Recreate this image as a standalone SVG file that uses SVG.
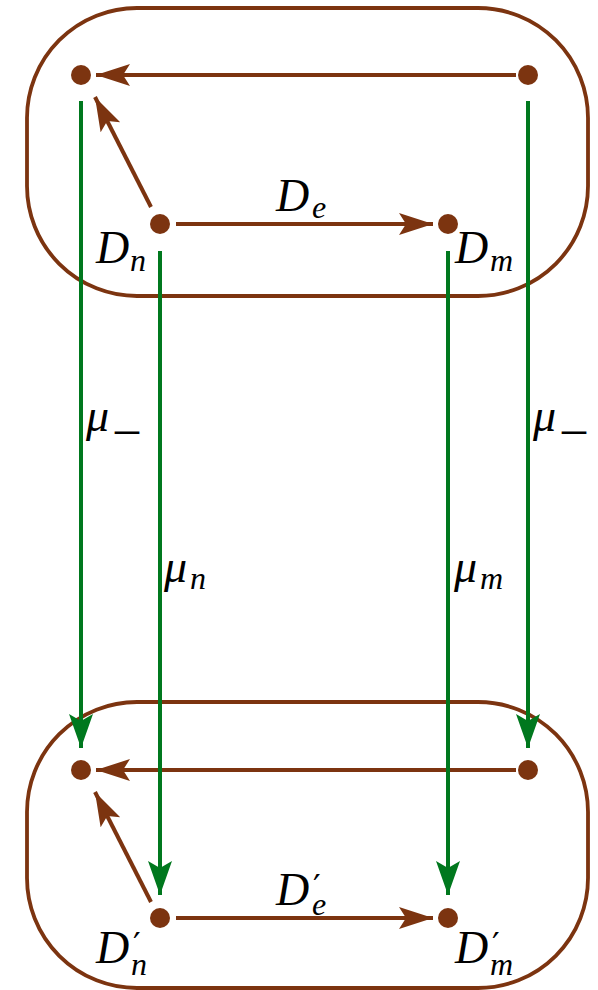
<svg xmlns="http://www.w3.org/2000/svg" width="598" height="990" viewBox="0 0 598 990">
<style>
.box{fill:none;stroke:#7c3410;stroke-width:3.8}
.br{fill:none;stroke:#7c3410;stroke-width:4}
.gr{fill:none;stroke:#00781e;stroke-width:4}
.dot{fill:#7c3410}
.lbl{font-family:"Liberation Serif",serif;font-style:italic;font-size:46px;fill:#000}
.sub{font-size:32px}
.pr{font-family:"DejaVu Sans",sans-serif;font-style:normal;font-size:34px}
</style>
<defs>
<marker id="ab" markerUnits="userSpaceOnUse" viewBox="0 -12 36 24" refX="34" refY="0" markerWidth="36" markerHeight="24" orient="auto">
<path d="M0,-11 L34,0 L0,11 L7,0 Z" fill="#7c3410"/>
</marker>
<marker id="ag" markerUnits="userSpaceOnUse" viewBox="0 -13 36 26" refX="34" refY="0" markerWidth="36" markerHeight="26" orient="auto">
<path d="M0,-12 L34,0 L0,12 L7,0 Z" fill="#00781e"/>
</marker>
</defs>
<g id="box-top"><rect class="box" x="27" y="8" width="561" height="288" rx="110" ry="110"/></g>
<g id="box-bottom"><rect class="box" x="27" y="702" width="561" height="286" rx="110" ry="110"/></g>
<g id="connectors">
<path class="br" d="M516,75 L96,75" marker-end="url(#ab)"/>
<path class="br" d="M151,207 L95,97" marker-end="url(#ab)"/>
<path class="br" d="M176,224 L433,224" marker-end="url(#ab)"/>
<path class="br" d="M516,770 L96,770" marker-end="url(#ab)"/>
<path class="br" d="M151,902 L95,792" marker-end="url(#ab)"/>
<path class="br" d="M176,918 L433,918" marker-end="url(#ab)"/>
<path class="gr" d="M81,101 L81,748" marker-end="url(#ag)"/>
<path class="gr" d="M160,251 L160,895" marker-end="url(#ag)"/>
<path class="gr" d="M448,251 L448,895" marker-end="url(#ag)"/>
<path class="gr" d="M528,101 L528,748" marker-end="url(#ag)"/>
</g>
<g id="n-tl"><circle class="dot" cx="81" cy="75" r="10"/></g>
<g id="n-tr"><circle class="dot" cx="528" cy="75" r="10"/></g>
<g id="n-Dn"><circle class="dot" cx="160" cy="224" r="10"/>
<text class="lbl" x="96" y="263">D<tspan class="sub" x="130" y="271">n</tspan></text></g>
<g id="n-Dm"><circle class="dot" cx="448" cy="224" r="10"/>
<text class="lbl" x="455" y="263">D<tspan class="sub" x="490" y="271">m</tspan></text></g>
<g id="n-bl"><circle class="dot" cx="81" cy="770" r="10"/></g>
<g id="n-br"><circle class="dot" cx="528" cy="770" r="10"/></g>
<g id="n-Dn2"><circle class="dot" cx="160" cy="918" r="10"/>
<text class="lbl" x="96" y="963">D<tspan class="pr" x="133" y="957">′</tspan><tspan class="sub" x="131" y="975">n</tspan></text></g>
<g id="n-Dm2"><circle class="dot" cx="448" cy="918" r="10"/>
<text class="lbl" x="455" y="963">D<tspan class="pr" x="492" y="957">′</tspan><tspan class="sub" x="490" y="975">m</tspan></text></g>
<g id="labels">
<text class="lbl" x="276" y="211">D<tspan class="sub" x="312" y="218">e</tspan></text>
<text class="lbl" x="276" y="905">D<tspan class="pr" x="313" y="899">′</tspan><tspan class="sub" x="312" y="915">e</tspan></text>
<text class="lbl" x="86" y="431">μ<tspan font-style="normal" font-size="48" x="115" y="428">_</tspan></text>
<text class="lbl" x="533" y="431">μ<tspan font-style="normal" font-size="48" x="562" y="428">_</tspan></text>
<text class="lbl" x="164" y="582">μ<tspan class="sub" x="190" y="589">n</tspan></text>
<text class="lbl" x="454" y="582">μ<tspan class="sub" x="480" y="589">m</tspan></text>
</g>
</svg>
